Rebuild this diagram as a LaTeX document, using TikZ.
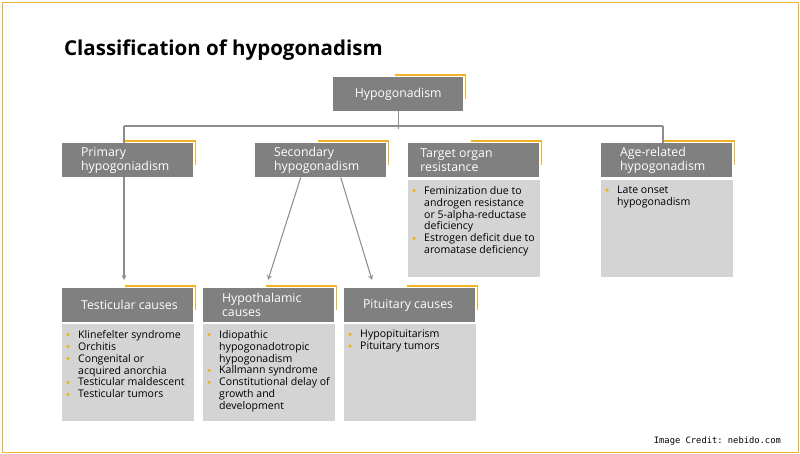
\documentclass[tikz,border=0pt]{standalone}
\usepackage{fontspec}
\setmainfont{Open Sans}
\setmonofont{DejaVu Sans Mono}
\usetikzlibrary{positioning, calc, arrows}
\definecolor{gold}{HTML}{F0B323}
\definecolor{headgray}{HTML}{808080}
\definecolor{bodygray}{HTML}{D4D4D4}
\newcommand{\bul}{\par\hangindent=0.36cm\hangafter=1\noindent\makebox[0.36cm][l]{\textcolor{gold}{\raisebox{0.3ex}{\tikz\fill circle (1.6pt);}}}}
\newcommand{\bodytext}[1]{\parbox[t][2.55cm][t]{3.7cm}{\hyphenpenalty=10000\raggedright #1}}
\tikzset{
  headbox/.style={fill=headgray, text=white, anchor=north west, minimum width=3.93cm, minimum height=1.02cm,
    align=left, inner sep=0pt, font=\fontsize{10.5}{12}\selectfont},
  bodybox/.style={fill=bodygray, anchor=north west, minimum width=3.93cm,
    inner sep=0pt, inner xsep=0.12cm, inner ysep=5pt, font=\fontsize{9}{10.2}\selectfont},
  accent/.style={gold, line width=1.3pt},
  link/.style={draw=headgray!90, line width=0.9pt},
  arr/.style={link, -stealth}
}
\newcommand{\accentfor}[1]{\draw[accent] ($(#1.north east)+(-68,-2)$) -- ($(#1.north east)+(2,-2)$) -- ($(#1.north east)+(2,22)$);}
\begin{document}
\begin{tikzpicture}[x=0.03cm, y=-0.03cm]
\useasboundingbox (0,0) rectangle (800,454);
\draw[gold, line width=0.8pt] (2,2) rectangle (798,452);

% Title
\node[anchor=west, font=\fontsize{17.5}{20}\bfseries] (title) at (60,50) {Classification of hypogonadism};

% Top level
\node[headbox, minimum width=3.9cm, align=center] (hypo) at (333,77) {Hypogonadism};
\accentfor{hypo}

% Second level
\node[headbox] (prim) at (62,143) {\hspace*{0.5cm}\parbox{3.3cm}{Primary\\hypogoniadism}};
\node[headbox] (sec) at (255,143) {\hspace*{0.5cm}\parbox{3.3cm}{Secondary\\hypogonadism}};
\node[headbox] (targ) at (408,143) {\hspace*{0.3cm}\parbox{3.5cm}{Target organ\\resistance}};
\node[headbox] (age) at (601,143) {\hspace*{0.5cm}\parbox{3.3cm}{Age-related\\hypogonadism}};
\foreach \n in {prim, sec, targ, age} {\accentfor{\n}}

\node[bodybox] (targbody) at (408,180) {\bodytext{
  \bul Feminization due to androgen resistance or 5-alpha-reductase deficiency
  \bul Estrogen deficit due to aromatase deficiency}};
\node[bodybox] (agebody) at (601,180) {\bodytext{
  \bul Late onset hypogonadism}};

% Connectors
\coordinate (bar) at ($(hypo.south)+(0,18)$);
\draw[link] (hypo.south) -- (bar);
\draw[link] (124,126) -- (663,126);
\draw[link] (663,126) -- (663,143);
\draw[link] (124,126) -- (124,143);

% Third level
\node[headbox] (test) at (62,288) {\hspace*{0.5cm}\parbox{3.3cm}{Testicular causes}};
\node[headbox] (hypoth) at (203,288) {\hspace*{0.5cm}\parbox{3.3cm}{Hypothalamic\\causes}};
\node[headbox] (pit) at (344,288) {\hspace*{0.5cm}\parbox{3.3cm}{Pituitary causes}};
\foreach \n in {test, hypoth, pit} {\accentfor{\n}}

\node[bodybox] (testbody) at (62,324) {\bodytext{
  \bul Klinefelter syndrome
  \bul Orchitis
  \bul Congenital or acquired anorchia
  \bul Testicular maldescent
  \bul Testicular tumors}};
\node[bodybox] (hypothbody) at (203,324) {\bodytext{
  \bul Idiopathic hypogonadotropic hypogonadism
  \bul Kallmann syndrome
  \bul Constitutional delay of growth and development}};
\node[bodybox] (pitbody) at (344,324) {\bodytext{
  \bul Hypopituitarism
  \bul Pituitary tumors}};

% Arrows
\draw[arr] (prim.south -| 124,0) -- (124,280);
\coordinate (hypothtip) at (268,280);
\coordinate (pittip) at (372,280);
\draw[arr] ($(sec.south)+(-20,0)$) -- (hypothtip);
\draw[arr] ($(sec.south)+(20,0)$) -- (pittip);

% Credit
\node[anchor=east, font=\ttfamily\fontsize{7.5}{9}\selectfont] (credit) at (785,441) {Image Credit: nebido.com};
\end{tikzpicture}
\end{document}
